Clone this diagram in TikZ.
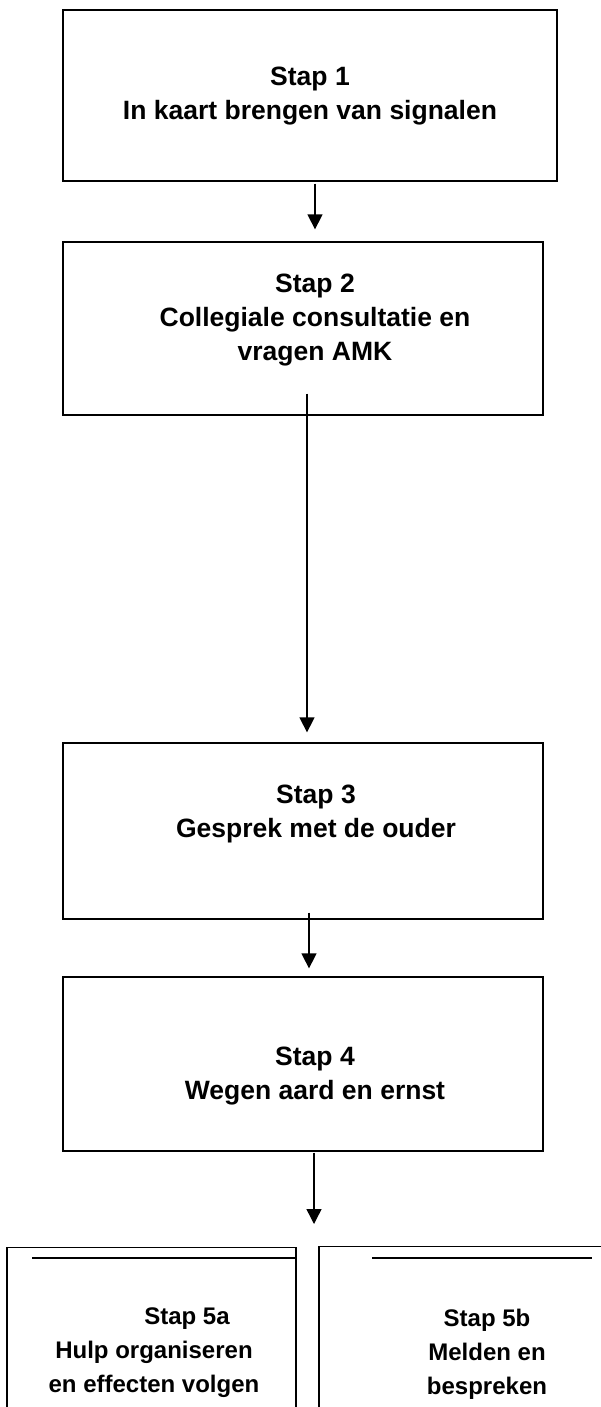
\documentclass[tikz,border=0pt]{standalone}
\usepackage{fontspec}
\setmainfont{Liberation Sans}
\usetikzlibrary{arrows.meta}
\begin{document}
\begin{tikzpicture}[x=1pt,y=-1pt,
  box/.style={draw, line width=1.3pt, inner sep=0pt},
  txt/.style={font=\bfseries\fontsize{26.5}{34}\selectfont, align=center, inner sep=0pt},
  stxt/.style={font=\bfseries\fontsize{24}{34}\selectfont, align=center, inner sep=0pt},
  arr/.style={line width=1.4pt, -{Triangle[width=15pt,length=15pt]}},
  edge/.style={line width=1.3pt},
  thinedge/.style={line width=0.8pt},
  rule/.style={line width=1.6pt}]
\useasboundingbox (0,0) rectangle (601,1407);
% main boxes
\node[box, minimum width=494pt, minimum height=171pt] (b1) at (310,95.5) {};
\node[box, minimum width=480pt, minimum height=173pt] (b2) at (303,328.5) {};
\node[box, minimum width=480pt, minimum height=176pt] (b3) at (303,831) {};
\node[box, minimum width=480pt, minimum height=174pt] (b4) at (303,1064) {};
% texts
\node[txt] (t1) at (310,96) {Stap 1\\In kaart brengen van signalen};
\node[txt] (t2) at (315,320) {Stap 2\\Collegiale consultatie en\\vragen AMK};
\node[txt] (t3) at (316,814) {Stap 3\\Gesprek met de ouder};
\node[txt] (t4) at (315,1076) {Stap 4\\Wegen aard en ernst};
% arrows
\draw[arr] ([xshift=5pt,yshift=-2pt]b1.south) -- ([xshift=12pt,yshift=12pt]b2.north);
\draw[arr] ([xshift=4pt,yshift=22pt]b2.south) -- ([xshift=4pt,yshift=10pt]b3.north);
\draw[arr] ([xshift=6pt,yshift=7pt]b3.south) -- ([xshift=6pt,yshift=8pt]b4.north);
\coordinate (a4end) at (314,1224);
\draw[arr] ([xshift=11pt,yshift=-1pt]b4.south) -- (a4end);
% bottom boxes (cut off by the page)
\draw[edge] (7,1407) -- (7,1247);
\draw[thinedge] (7,1247) -- (296,1247);
\draw[edge] (296,1247) -- (296,1407);
\draw[rule] (32,1258) -- (296,1258);
\draw[edge] (319,1407) -- (319,1246);
\draw[thinedge] (319,1246) -- (601,1246);
\draw[rule] (372,1258) -- (592,1258);
\node[stxt] (t5a) at (154,1353) {\hspace*{66pt}Stap 5a\\Hulp organiseren\\en effecten volgen};
\node[stxt] (t5b) at (487,1354) {Stap 5b\\Melden en\\bespreken};
\end{tikzpicture}
\end{document}
